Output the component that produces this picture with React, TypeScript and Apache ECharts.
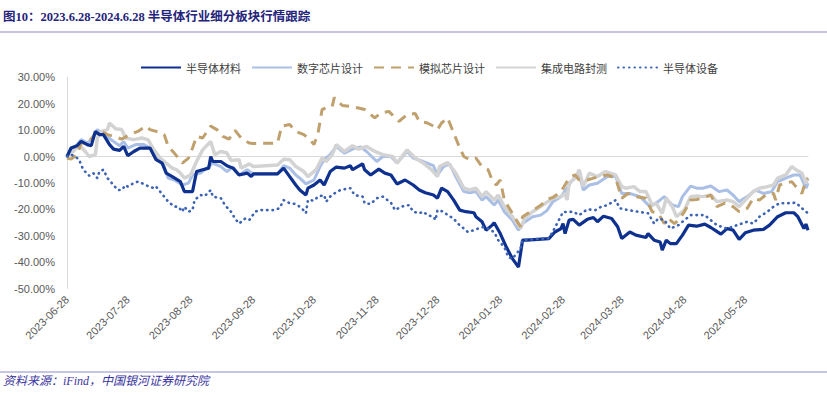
import React, { useEffect, useRef } from "react";
import * as echarts from "echarts";

// x = day offset from 2023-06-28, y = cumulative return (%)
const tickDays = [0, 30, 61, 92, 122, 153, 183, 214, 245, 274, 305, 335];
const tickLabels = [
  "2023-06-28", "2023-07-28", "2023-08-28", "2023-09-28", "2023-10-28", "2023-11-28",
  "2023-12-28", "2024-01-28", "2024-02-28", "2024-03-28", "2024-04-28", "2024-05-28",
];

const seriesNames = ["半导体材料", "数字芯片设计", "模拟芯片设计", "集成电路封测", "半导体设备"];

const materialData = [
  [0, 0], [2, 3.2], [5, 4.1], [7, 5.7], [10, 4.5], [12, 4.1], [14, 9.5], [16, 8.3], [18, 8.3],
  [21, 4.5], [23, 2.8], [26, 2.3], [28, 3.8], [30, 0.3], [33, 1.9], [36, 3.2], [41, 3.2],
  [44, -1.2], [47, -2.5], [49, -6.3], [52, -7.6], [56, -9.5], [58, -13.3], [62, -13.3],
  [64, -5.7], [67, -5.0], [70, -4.4], [71, 0], [72, -1.9], [76, -1.9], [79, -3.5], [82, -4.4],
  [85, -7.0], [89, -6.3], [91, -7.6], [92, -6.6], [104, -6.6], [107, -4.4], [110, -7.6],
  [113, -10.8], [115, -12.7], [118, -14.6], [119, -12.0], [122, -10.8], [125, -8.9],
  [127, -10.8], [130, -5.7], [133, -4.0], [137, -4.4], [140, -3.5], [141, -5.0], [146, -2.8],
  [147, -5.0], [150, -7.0], [154, -4.8], [157, -6.3], [160, -7.0], [163, -10.4], [167, -8.9],
  [171, -10.8], [174, -12.7], [177, -13.7], [181, -14.6], [183, -15.8], [185, -12.0],
  [188, -13.3], [191, -16.5], [194, -20.3], [197, -20.9], [201, -21.3], [202, -22.8],
  [205, -24.7], [207, -27.9], [210, -26.0], [211, -25.1], [214, -29.2], [217, -34.3],
  [220, -38.7], [223, -41.9], [225, -31.7], [227, -31.7], [238, -31.1], [241, -28.6],
  [244, -27.3], [245, -25.4], [246, -29.2], [248, -24.1], [250, -23.8], [253, -26.0],
  [257, -23.8], [260, -23.1], [262, -24.7], [265, -22.6], [269, -23.5], [272, -26.6],
  [274, -31.1], [278, -28.6], [281, -29.8], [286, -30.7], [287, -29.2], [290, -31.7],
  [293, -32.4], [294, -35.5], [296, -31.7], [298, -33.0], [301, -33.0], [304, -29.8],
  [307, -26.0], [311, -26.4], [315, -25.6], [318, -26.9], [320, -27.9], [323, -29.4],
  [326, -27.3], [329, -27.9], [332, -31.4], [335, -28.9], [339, -27.9], [344, -27.6],
  [347, -26.0], [351, -22.8], [355, -21.3], [359, -21.3], [361, -22.8], [364, -27.3],
  [365, -25.6], [366, -27.9],
];

const digitalData = [
  [0, 0], [3, 2.5], [7, 6.4], [10, 5.1], [12, 6.4], [15, 10.2], [16, 9.5], [20, 7.4],
  [23, 5.7], [26, 4.1], [28, 5.7], [30, 3.2], [34, 4.5], [38, 4.5], [41, 3.2], [44, 0],
  [48, -3.8], [50, -8.2], [53, -8.9], [57, -10.8], [60, -10.1], [62, -7.0], [66, -6.3],
  [69, -4.4], [72, -2.5], [76, -3.8], [79, -5.7], [82, -4.0], [85, -7.0], [89, -5.0],
  [92, -6.6], [104, -6.6], [107, -3.5], [110, -4.4], [113, -7.0], [115, -8.2], [118, -10.4],
  [122, -8.9], [125, -3.8], [127, -1.2], [130, 0.7], [133, 3.8], [137, 1.3], [141, 2.8],
  [145, 3.6], [148, 1.9], [153, -1.9], [156, 0], [160, 0], [163, -2.5], [168, 1.9],
  [171, -0.6], [176, -1.9], [181, -3.5], [183, -7.0], [186, -3.8], [189, -2.8], [192, -7.6],
  [196, -13.3], [199, -13.7], [202, -13.3], [205, -16.5], [207, -15.2], [211, -18.4],
  [213, -16.5], [216, -20.9], [220, -24.1], [223, -27.9], [225, -25.4], [230, -22.8],
  [234, -22.2], [237, -20.5], [240, -17.1], [244, -15.2], [247, -12.0], [249, -9.5],
  [253, -6.3], [255, -12.7], [258, -10.8], [262, -10.1], [267, -7.6], [271, -7.6],
  [274, -14.0], [278, -14.0], [283, -15.2], [288, -19.0], [292, -17.1], [295, -15.2],
  [299, -18.4], [302, -19.0], [304, -15.2], [308, -11.2], [311, -12.0], [314, -12.0],
  [318, -11.2], [322, -13.3], [326, -12.7], [329, -14.6], [332, -17.1], [336, -15.2],
  [340, -12.7], [344, -14.0], [348, -13.3], [351, -9.5], [355, -8.2], [359, -7.0],
  [362, -7.0], [365, -12.0], [366, -10.1],
];

const analogData = [
  [0, -0.6], [2, -1.0], [5, 0.7], [7, 5.1], [10, 5.1], [13, 7.6], [15, 9.5], [17, 9.5],
  [20, 8.3], [24, 7.4], [27, 6.6], [31, 8.3], [35, 9.5], [39, 11.5], [41, 10.2], [44, 9.5],
  [48, 8.3], [50, 3.8], [53, 1.3], [55, -0.6], [57, -2.5], [60, -0.6], [62, 3.2], [64, 7.6],
  [67, 7.0], [71, 11.5], [74, 10.2], [77, 7.6], [80, 6.6], [83, 9.9], [86, 7.0], [90, 5.1],
  [92, 4.9], [104, 5.1], [106, 11.5], [110, 12.1], [113, 9.5], [117, 8.3], [120, 6.4],
  [122, 4.5], [124, 8.9], [126, 17.8], [128, 18.4], [131, 19.0], [132, 22.3], [136, 19.3],
  [140, 19.0], [144, 18.4], [147, 17.8], [150, 15.9], [152, 14.6], [155, 16.5], [159, 17.1],
  [161, 15.5], [164, 13.3], [168, 15.9], [172, 16.3], [174, 13.3], [178, 12.7], [181, 11.5],
  [183, 10.2], [185, 12.7], [188, 14.6], [190, 10.8], [192, 7.0], [194, 3.2], [196, 0],
  [199, -1.2], [202, -0.6], [205, -3.8], [208, -5.0], [210, -8.9], [212, -10.8], [214, -8.9],
  [216, -16.5], [219, -20.3], [222, -24.1], [224, -26.6], [225, -22.8], [229, -20.9],
  [234, -18.5], [237, -16.3], [240, -15.5], [244, -13.3], [247, -9.5], [249, -7.6],
  [251, -7.0], [253, -8.9], [257, -8.9], [260, -8.2], [263, -7.6], [267, -7.0], [271, -8.2],
  [274, -15.8], [277, -14.0], [281, -15.2], [286, -15.8], [289, -20.9], [292, -21.5],
  [295, -25.4], [297, -23.5], [300, -25.4], [302, -24.1], [305, -20.9], [308, -16.5],
  [311, -16.3], [314, -15.8], [318, -14.6], [321, -19.0], [325, -17.7], [329, -19.0],
  [332, -20.9], [336, -19.6], [339, -15.8], [342, -16.5], [346, -14.0], [349, -14.0],
  [350, -16.5], [352, -10.8], [355, -10.1], [358, -9.5], [360, -11.4], [363, -14.0],
  [365, -8.9], [366, -8.2],
];

const packagingData = [
  [0, 0], [3, 1.9], [6, 4.5], [9, 1.9], [11, 0], [14, 0.7], [15, 7.0], [17, 9.5], [20, 10.2],
  [21, 12.7], [24, 10.5], [27, 10.2], [29, 7.0], [33, 6.4], [37, 7.0], [40, 6.4], [43, 2.5],
  [46, -0.6], [49, -2.5], [52, -4.4], [54, -5.0], [56, -6.3], [58, -8.2], [61, -7.0],
  [64, -1.9], [67, 2.5], [71, 5.7], [73, 0.7], [76, 1.9], [79, 1.3], [81, -1.5], [85, -1.2],
  [86, -4.4], [90, -2.8], [92, -3.8], [104, -3.2], [107, -1.0], [110, -1.2], [113, -3.8],
  [117, -5.7], [119, -7.6], [123, -5.0], [126, -0.6], [128, -1.9], [131, 0.7], [133, 4.5],
  [137, 1.9], [141, 4.1], [144, 2.8], [148, 3.8], [152, 1.9], [156, 0.7], [161, 0],
  [163, -2.5], [168, 2.5], [172, -0.6], [176, -2.5], [180, -5.0], [183, -7.6], [184, -3.8],
  [188, -2.3], [192, -6.3], [196, -12.0], [199, -12.7], [202, -12.0], [205, -15.2],
  [207, -13.3], [211, -16.5], [213, -14.6], [216, -19.0], [220, -22.8], [224, -27.3],
  [226, -23.5], [230, -20.9], [235, -18.4], [240, -15.8], [244, -15.2], [246, -14.0],
  [247, -16.5], [248, -10.1], [251, -8.2], [253, -5.0], [255, -11.4], [258, -6.3],
  [262, -7.6], [266, -5.7], [271, -7.0], [274, -11.4], [276, -12.0], [280, -11.4],
  [283, -13.3], [286, -13.3], [289, -18.4], [291, -17.7], [294, -21.5], [296, -15.8],
  [299, -19.0], [301, -22.8], [305, -20.3], [308, -15.2], [311, -15.0], [314, -15.2],
  [318, -14.6], [321, -17.1], [326, -16.5], [329, -17.1], [332, -19.0], [335, -16.5],
  [339, -13.3], [342, -12.0], [346, -11.4], [349, -10.8], [351, -8.2], [355, -7.0],
  [358, -3.8], [360, -5.0], [363, -6.3], [365, -10.1], [366, -8.2],
];

const equipmentData = [
  [0, 0], [2, 0.7], [4, 0], [6, -1.2], [8, -5.0], [11, -7.3], [13, -6.3], [15, -8.2],
  [16, -5.7], [18, -5.0], [20, -8.2], [23, -10.8], [25, -12.7], [27, -12.7], [29, -10.8],
  [30, -11.4], [33, -10.1], [35, -9.5], [38, -10.4], [40, -11.2], [43, -12.0], [44, -11.4],
  [46, -13.3], [48, -15.2], [50, -17.1], [53, -19.0], [55, -19.0], [57, -20.9], [58, -19.0],
  [60, -20.9], [62, -20.3], [63, -16.5], [66, -14.6], [68, -15.0], [71, -12.7], [72, -15.2],
  [76, -15.8], [78, -18.4], [81, -20.9], [83, -23.5], [85, -25.4], [88, -23.5], [90, -24.1],
  [93, -20.9], [95, -20.3], [102, -20.3], [105, -19.6], [107, -16.5], [110, -17.7],
  [113, -18.0], [116, -19.6], [118, -21.5], [119, -16.5], [122, -16.7], [124, -15.2],
  [127, -14.6], [128, -17.1], [130, -15.2], [132, -14.0], [135, -12.7], [137, -12.4],
  [140, -12.0], [142, -14.6], [146, -15.2], [147, -17.7], [150, -18.0], [153, -15.8],
  [156, -15.2], [160, -17.5], [162, -20.3], [165, -19.0], [169, -18.4], [171, -20.9],
  [174, -21.5], [176, -20.9], [178, -22.2], [181, -22.8], [182, -24.1], [183, -20.3],
  [186, -20.9], [188, -22.2], [191, -23.5], [193, -25.4], [196, -27.3], [198, -28.6],
  [201, -27.9], [203, -27.3], [206, -26.6], [208, -27.3], [211, -28.6], [213, -31.7],
  [216, -34.3], [218, -38.1], [220, -38.7], [222, -36.8], [224, -34.9], [225, -31.7],
  [227, -31.5], [238, -31.0], [241, -27.0], [245, -21.0], [248, -21.0], [250, -20.9],
  [253, -22.2], [257, -20.0], [261, -20.3], [264, -19.0], [267, -18.4], [271, -16.5],
  [273, -19.6], [277, -20.3], [282, -20.9], [287, -21.5], [290, -25.4], [292, -23.5],
  [295, -24.0], [298, -27.3], [302, -26.0], [305, -24.1], [308, -22.2], [315, -22.2],
  [317, -23.5], [321, -26.0], [326, -27.3], [331, -26.0], [336, -24.7], [339, -25.4],
  [342, -22.8], [346, -20.9], [349, -19.0], [352, -17.7], [356, -17.7], [360, -17.5],
  [363, -19.6], [366, -21.5],
];

const TITLE = "图10：2023.6.28-2024.6.28 半导体行业细分板块行情跟踪";
const SOURCE = "资料来源：iFind，中国银河证券研究院";

export default function App() {
  const ref = useRef<HTMLDivElement>(null);

  useEffect(() => {
    if (!ref.current) return;
    const chart = echarts.init(ref.current, undefined, { renderer: "svg" });
    const labelFont = "'Liberation Sans', 'Noto Sans CJK SC', sans-serif";
    const line = (name: string, data: number[][], color: string, width: number, type: any, extra: any = {}) => ({
      name,
      type: "line",
      data,
      symbol: "none",
      smooth: false,
      lineStyle: { color, width, type, ...extra },
      itemStyle: { color },
    });
    chart.setOption({
      animation: false,
      backgroundColor: "#ffffff",
      grid: { left: 67, right: 19, top: 77.3, bottom: 106.5, containLabel: false },
      legend: {
        left: 135,
        top: 57,
        itemWidth: 40,
        itemHeight: 14,
        itemGap: 10,
        data: seriesNames,
        itemStyle: { opacity: 0 },
        textStyle: { fontSize: 11, color: "#404040", fontFamily: "'Noto Sans CJK SC', sans-serif" },
      },
      xAxis: {
        type: "value",
        min: 0,
        max: 366,
        axisLine: { show: true, lineStyle: { color: "#d9d9d9", width: 1 } },
        axisTick: { show: false },
        splitLine: { show: false },
        axisLabel: {
          customValues: tickDays,
          rotate: 45,
          margin: 9,
          fontSize: 11,
          color: "#595959",
          fontFamily: labelFont,
          formatter: (v: number) => {
            const i = tickDays.indexOf(Math.round(v));
            return i >= 0 ? tickLabels[i] : "";
          },
        },
      },
      yAxis: {
        type: "value",
        min: -50,
        max: 30,
        interval: 10,
        axisLine: { show: true, lineStyle: { color: "#d9d9d9", width: 1 } },
        axisTick: { show: false },
        splitLine: { show: false },
        axisLabel: {
          margin: 12,
          fontSize: 11,
          color: "#595959",
          fontFamily: labelFont,
          formatter: (v: number) => v.toFixed(2) + "%",
        },
      },
      series: [
        line(seriesNames[1], digitalData, "#aabfe6", 3, "solid"),
        line(seriesNames[3], packagingData, "#d3d3d3", 3.5, "solid"),
        line(seriesNames[2], analogData, "#c0a06c", 3, [10, 7]),
        line(seriesNames[0], materialData, "#0e3190", 3.2, "solid"),
        line(seriesNames[4], equipmentData, "#3c63b4", 2.6, [0.5, 5], { cap: "round" }),
      ],
      graphic: [
        {
          type: "text",
          left: 3,
          top: 11,
          style: {
            text: TITLE,
            fill: "#24237a",
            font: "bold 12.5px 'Liberation Serif', 'Noto Sans CJK SC', serif",
          },
        },
        {
          type: "line",
          shape: { x1: 0, y1: 32, x2: 827, y2: 32 },
          style: { stroke: "#8f8bc9", lineWidth: 1 },
        },
        {
          type: "line",
          shape: { x1: 0, y1: 372, x2: 827, y2: 372 },
          style: { stroke: "#8f8bc9", lineWidth: 1 },
        },
        {
          type: "text",
          left: 3,
          top: 375,
          style: {
            text: SOURCE,
            fill: "#3a34a0",
            font: "italic 12px 'Liberation Serif', 'Noto Sans CJK SC', serif",
          },
        },
      ],
    });
    return () => chart.dispose();
  }, []);

  return (
    <div
      ref={ref}
      style={{ position: "fixed", left: 0, top: 0, width: 827, height: 395, background: "#fff" }}
    />
  );
}
